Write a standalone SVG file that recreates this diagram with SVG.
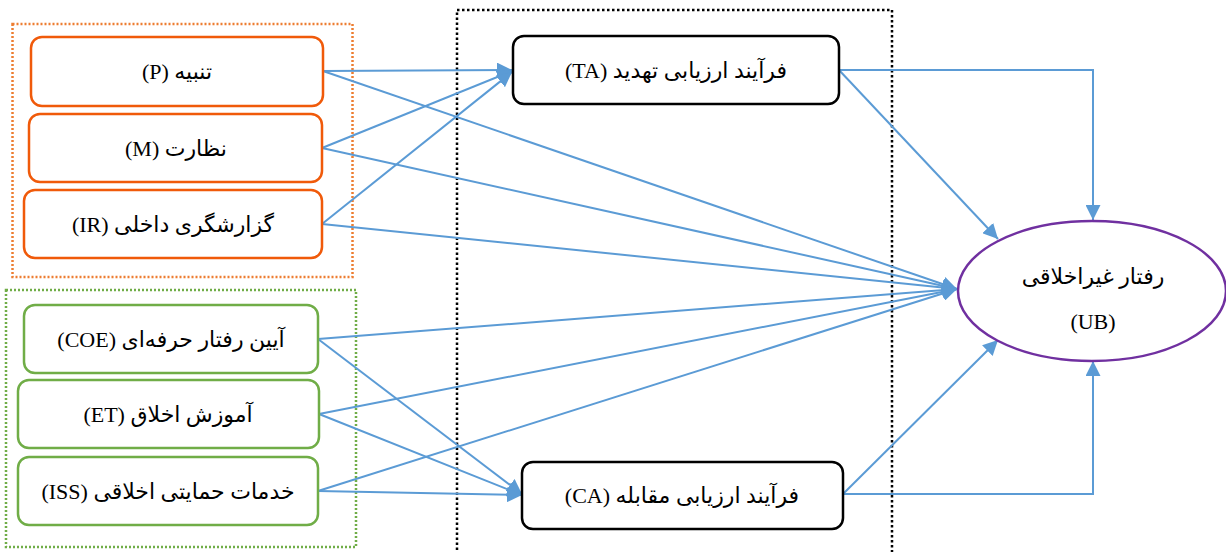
<svg xmlns="http://www.w3.org/2000/svg" width="1226" height="552" viewBox="0 0 1226 552">
<style>
.t{font-family:"Liberation Serif","DejaVu Sans",serif;font-size:22px;fill:#000;text-anchor:middle;direction:rtl;unicode-bidi:embed}
.or{fill:#fff;stroke:#F05A0A;stroke-width:2.5}
.gr{fill:#fff;stroke:#70AD47;stroke-width:2.5}
.bk{fill:#fff;stroke:#000;stroke-width:2.5}
.c{fill:none;stroke:#5B9BD5;stroke-width:2}
</style>
<defs>
<marker id="ah" markerUnits="userSpaceOnUse" markerWidth="16" markerHeight="15" refX="15" refY="7.5" orient="auto"><path d="M0,0 L15,7.5 L0,15 z" fill="#5B9BD5"/></marker>
</defs>
<g id="frames" fill="none">
<rect x="12.5" y="24" width="340" height="253" stroke="#ED7D31" stroke-width="2.5" stroke-dasharray="2 2"/>
<rect x="6" y="290" width="350" height="257" stroke="#70AD47" stroke-width="2.5" stroke-dasharray="2 2"/>
<path d="M457,560 V10 H892 V560" stroke="#000" stroke-width="2.5" stroke-dasharray="2.5 2.5"/>
</g>
<g id="connectors">
<line class="c" x1="323" y1="71" x2="512" y2="70" marker-end="url(#ah)"/>
<line class="c" x1="322" y1="148" x2="512" y2="71" marker-end="url(#ah)"/>
<line class="c" x1="322" y1="224" x2="512" y2="72" marker-end="url(#ah)"/>
<line class="c" x1="323" y1="71" x2="957" y2="289" marker-end="url(#ah)"/>
<line class="c" x1="322" y1="148" x2="957" y2="289" marker-end="url(#ah)"/>
<line class="c" x1="322" y1="224" x2="957" y2="289" marker-end="url(#ah)"/>
<line class="c" x1="318" y1="339" x2="957" y2="289" marker-end="url(#ah)"/>
<line class="c" x1="319" y1="414" x2="957" y2="289" marker-end="url(#ah)"/>
<line class="c" x1="318" y1="491" x2="957" y2="289" marker-end="url(#ah)"/>
<line class="c" x1="318" y1="339" x2="522" y2="494" marker-end="url(#ah)"/>
<line class="c" x1="319" y1="414" x2="522" y2="495" marker-end="url(#ah)"/>
<line class="c" x1="318" y1="491" x2="522" y2="495" marker-end="url(#ah)"/>
<polyline class="c" points="839,70 1093,70 1093,220" marker-end="url(#ah)"/>
<line class="c" x1="839" y1="70" x2="998" y2="239" marker-end="url(#ah)"/>
<polyline class="c" points="843,494 1093,494 1093,361" marker-end="url(#ah)"/>
<line class="c" x1="843" y1="494" x2="998" y2="340" marker-end="url(#ah)"/>
</g>
<g id="P"><rect class="or" x="31" y="37" width="292" height="69" rx="11"/><text class="t" x="177" y="79">تنبیه (P)</text></g>
<g id="M"><rect class="or" x="29" y="114" width="293" height="68" rx="11"/><text class="t" x="176" y="156">نظارت (M)</text></g>
<g id="IR"><rect class="or" x="24" y="190" width="298" height="68" rx="11"/><text class="t" x="173" y="232">گزارشگری داخلی (IR)</text></g>
<g id="COE"><rect class="gr" x="24" y="305" width="294" height="68" rx="11"/><text class="t" x="171" y="347">آیین رفتار حرفه‌ای (COE)</text></g>
<g id="ET"><rect class="gr" x="18" y="380" width="301" height="68" rx="11"/><text class="t" x="168" y="422">آموزش اخلاق (ET)</text></g>
<g id="ISS"><rect class="gr" x="18" y="457" width="300" height="68" rx="11"/><text class="t" x="168" y="499">خدمات حمایتی اخلاقی (ISS)</text></g>
<g id="TA"><rect class="bk" x="513" y="36" width="326" height="68" rx="11"/><text class="t" x="676" y="78">فرآیند ارزیابی تهدید (TA)</text></g>
<g id="CA"><rect class="bk" x="522" y="462" width="321" height="67" rx="11"/><text class="t" x="682" y="503">فرآیند ارزیابی مقابله (CA)</text></g>
<g id="UB"><ellipse cx="1092" cy="291" rx="134" ry="70" fill="#fff" stroke="#7030A0" stroke-width="2.5"/><text class="t" x="1093" y="284">رفتار غیراخلاقی</text><text class="t" x="1093" y="329">(UB)</text></g>
</svg>
